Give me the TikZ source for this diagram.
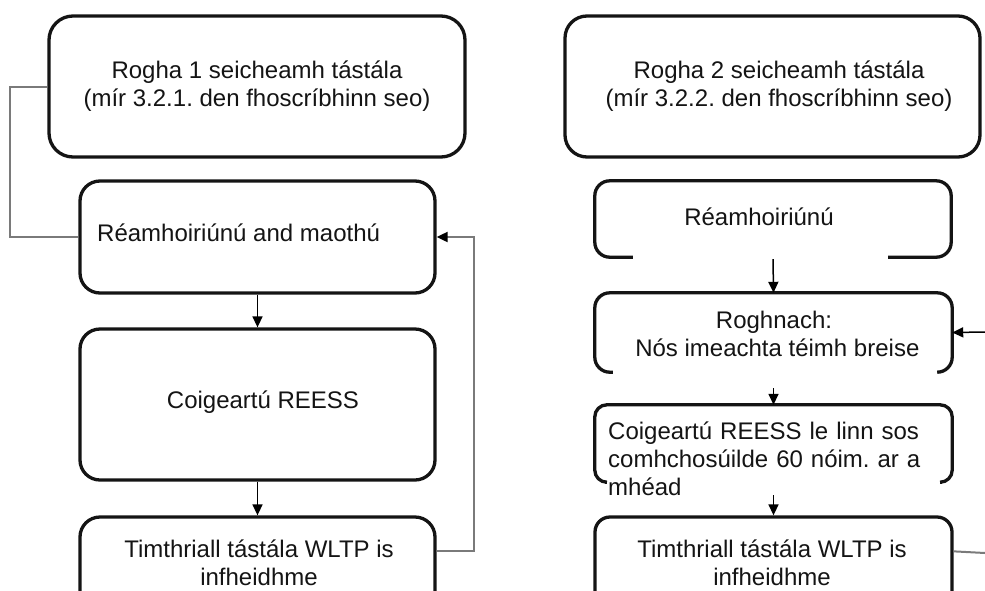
\documentclass[tikz,border=0pt]{standalone}
\usepackage{fontspec}
\setmainfont{Liberation Sans}
\usetikzlibrary{arrows.meta,calc}
\definecolor{txt}{HTML}{141414}
\definecolor{conn}{HTML}{7A7A7A}
\frenchspacing
\tikzset{
  boxline/.style={line width=3.3pt,draw=black!92},
  fullbox/.style={boxline,rounded corners=#1,inner sep=0pt},
  hidbox/.style={inner sep=0pt},
  lbl/.style={text=txt,font=\fontsize{24}{28}\selectfont,align=center,inner sep=0pt},
  grayline/.style={draw=conn,line width=2pt},
  tipk/.style={-{Triangle[width=10pt,length=11pt,color=black,fill=black]}},
  arr/.style={draw=black,line width=1.5pt,tipk},
}
\begin{document}
\begin{tikzpicture}[x=1pt,y=-1pt]
\useasboundingbox (0,0) rectangle (985,590);
\clip (0,0) rectangle (985,590);
\fill[white] (0,0) rectangle (985,590);

% ---------- left column ----------
\node[fullbox=24,minimum width=416pt,minimum height=141pt] (A) at (257,86.5) {};
\node[lbl] (At) at (257,86) {Rogha 1 seicheamh tástála\\(mír 3.2.1. den fhoscríbhinn seo)};

\node[fullbox=20,minimum width=355pt,minimum height=112pt] (B) at (257.5,237) {};
\node[lbl,anchor=west] (Bt) at (97,233) {Réamhoiriúnú and maothú};

\node[fullbox=20,minimum width=355pt,minimum height=151pt] (C) at (257.5,404.5) {};
\node[lbl] (Ct) at (263,402) {Coigeartú REESS};

\node[fullbox=20,minimum width=355pt,minimum height=100pt] (D) at (257.5,567) {};
\node[lbl] (Dt) at (259,563) {Timthriall tástála WLTP is\\infheidhme};

\draw[arr] (B.south) -- (C.north);
\draw[arr] (C.south) -- (D.north);
\draw[grayline] (A.west) -- ++(-37,0) |- (B.west);
\draw[grayline,tipk] ($(D.north east)+(0,36)$) -- ++(37,0) |- (B.east);

% ---------- right column ----------
\node[fullbox=22,minimum width=415pt,minimum height=141pt] (A2) at (772.5,86.5) {};
\node[lbl] (A2t) at (779,86) {Rogha 2 seicheamh tástála\\(mír 3.2.2. den fhoscríbhinn seo)};

\node[hidbox,minimum width=356pt,minimum height=76pt] (B2) at (773,219) {};
\draw[boxline,rounded corners=15] ([xshift=38pt]B2.south west) -- (B2.south west) -- (B2.north west) -- (B2.north east) -- (B2.south east) -- ([xshift=-63pt]B2.south east);
\node[lbl] (B2t) at (759,217) {Réamhoiriúnú};

\node[hidbox,minimum width=357pt,minimum height=79pt] (C2) at (773.5,332.5) {};
\draw[boxline,rounded corners=15] ([xshift=18pt]C2.south west) -- (C2.south west) -- (C2.north west) -- (C2.north east) -- (C2.south east) -- ([xshift=-15pt]C2.south east);
\node[lbl] (C2t) at (774,333.5) {Roghnach:\\\ Nós imeachta téimh breise};

\node[hidbox,minimum width=357pt,minimum height=77pt] (D2) at (773.5,443.5) {};
\draw[boxline,rounded corners=12] ([xshift=10pt]D2.south west) -- (D2.south west) -- (D2.north west) -- (D2.north east) -- (D2.south east) -- ([xshift=-10pt]D2.south east);
\node[lbl,anchor=west,text width=330pt,align=left] (D2t) at (608,459) {Coigeartú REESS le linn sos\\comhchosúilde 60 nóim. ar a\\mhéad};

\node[fullbox=15,minimum width=357pt,minimum height=92pt] (E2) at (773.5,563) {};
\node[lbl] (E2t) at (772,563) {Timthriall tástála WLTP is\\infheidhme};

\coordinate (rin) at (985,332);
\coordinate (rout) at (985,553);
\draw[arr,shorten <=2pt] (B2.south) -- (C2.north);
\draw[arr,shorten <=16pt] (C2.south) -- (D2.north);
\draw[arr,shorten <=13pt] (D2.south) -- (E2.north);
\draw[arr] (rin) -- (C2.east);
\draw[grayline] ($(E2.north east)+(0,36)$) -- (rout);
\end{tikzpicture}
\end{document}
